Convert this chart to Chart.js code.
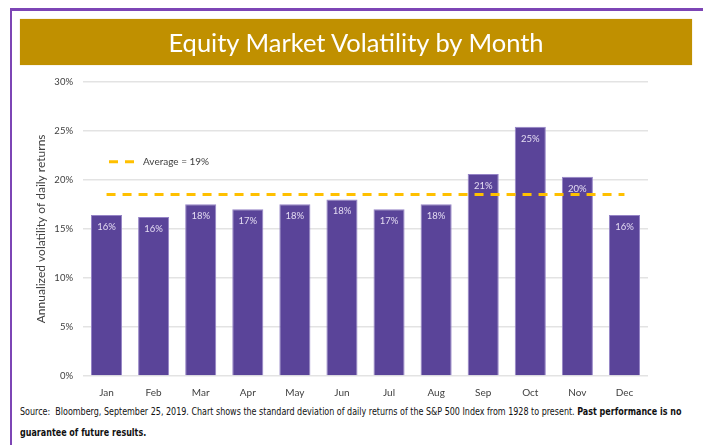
<!DOCTYPE html>
<html>
<head>
<meta charset="utf-8">
<script src="https://cdn.jsdelivr.net/npm/chart.js@4/dist/chart.umd.min.js"></script>
<style>
  body { margin: 0; background: #fff; width: 703px; height: 445px; position: relative; overflow: hidden; font-family: Lato, sans-serif; }
  .frame { position: absolute; left: 10px; top: 8px; right: -10px; bottom: -10px; border-left: 2px solid #7d45b5; border-top: 3px solid #7d45b5; }
  .title { position: absolute; left: 20px; top: 19px; width: 672px; height: 46px; background: #c09000; color: #fff;
           font-size: 25.5px; line-height: 46px; text-align: center; box-shadow: 0 0 1px #d9c48a; z-index: 1; }
  .chartbox { position: absolute; left: 30px; top: 66px; width: 628px; height: 334px; }
  .note { position: absolute; left: 20px; top: 401px; width: 800px; white-space: nowrap; transform: scaleX(0.89); transform-origin: 0 0;
          font-family: "DejaVu Sans Condensed", "DejaVu Sans", sans-serif; font-size: 10px; line-height: 21px; color: #111; }
</style>
</head>
<body>
<div class="frame"></div>
<div class="title">Equity Market Volatility by Month</div>
<div class="chartbox"><canvas id="chart"></canvas></div>
<div class="note">Source:&nbsp; Bloomberg, September 25, 2019. Chart shows the standard deviation of daily returns of the S&amp;P 500 Index from 1928 to present. <b>Past performance is no</b><br><b>guarantee of future results.</b></div>
<script>
// monthly volatility (percent)
const months = ['Jan', 'Feb', 'Mar', 'Apr', 'May', 'Jun', 'Jul', 'Aug', 'Sep', 'Oct', 'Nov', 'Dec'];
const volatility = [16.4, 16.2, 17.5, 17.0, 17.5, 18.0, 17.0, 17.5, 20.6, 25.4, 20.3, 16.4];
const average = [18.5, 18.5, 18.5, 18.5, 18.5, 18.5, 18.5, 18.5, 18.5, 18.5, 18.5, 18.5];
const averageLabel = 'Average = 19%';
const yTicks = [0, 5, 10, 15, 20, 25, 30];

// value labels inside the top of each bar
const barLabels = {
    id: 'barLabels',
    afterDatasetsDraw(chart) {
        const ctx = chart.ctx;
        const meta = chart.getDatasetMeta(0);
        ctx.save();
        ctx.font = '9.5px Lato';
        ctx.fillStyle = '#e4dcf2';
        ctx.textAlign = 'center';
        ctx.textBaseline = 'middle';
        meta.data.forEach((bar, i) => {
            ctx.fillText(Math.round(volatility[i]) + '%', bar.x, bar.y + 12);
        });
        ctx.restore();
    }
};

// small legend for the average line, top left of the plot
const avgLegend = {
    id: 'avgLegend',
    afterDraw(chart) {
        const ctx = chart.ctx;
        const ds = chart.data.datasets[1];
        const a = chart.chartArea;
        const x = a.left + 26, y = a.top + 80;
        ctx.save();
        ctx.strokeStyle = ds.borderColor;
        ctx.lineWidth = ds.borderWidth;
        ctx.setLineDash(ds.borderDash);
        ctx.beginPath();
        ctx.moveTo(x, y);
        ctx.lineTo(x + 30, y);
        ctx.stroke();
        ctx.font = '10px Lato';
        ctx.fillStyle = '#404040';
        ctx.textBaseline = 'middle';
        ctx.fillText(ds.label, x + 34, y);
        ctx.restore();
    }
};

new Chart(document.getElementById('chart'), {
    data: {
        labels: months,
        datasets: [
            {
                type: 'bar',
                label: 'Volatility',
                data: volatility,
                backgroundColor: '#5a4499',
                borderColor: '#9584c6',
                borderWidth: 1,
                categoryPercentage: 1,
                barPercentage: 0.66,
                order: 2
            },
            {
                type: 'line',
                label: averageLabel,
                data: average,
                borderColor: '#ffc000',
                borderWidth: 3,
                borderDash: [9, 7],
                pointRadius: 0,
                fill: false,
                order: 1
            }
        ]
    },
    options: {
        responsive: true,
        maintainAspectRatio: false,
        animation: false,
        layout: { padding: { top: 3, right: 10 } },
        plugins: {
            legend: { display: false },
            tooltip: { enabled: false }
        },
        scales: {
            x: {
                grid: { display: false },
                border: { display: false },
                ticks: { color: '#404040', font: { family: 'Lato', size: 10 }, padding: 3 },
                afterFit: (s) => { s.height = 24; }
            },
            y: {
                min: 0,
                max: 30,
                afterBuildTicks: (s) => { s.ticks = yTicks.map((v) => ({ value: v })); },
                grid: { color: '#e3e3e3', lineWidth: 1.5, drawTicks: false },
                border: { display: false },
                ticks: {
                    color: '#404040',
                    font: { family: 'Lato', size: 9.5 },
                    padding: 10,
                    callback: (v) => v + '%'
                },
                title: {
                    display: true,
                    text: 'Annualized volatility of daily returns',
                    color: '#404040',
                    font: { family: 'Lato', size: 12 },
                    padding: { top: 4, bottom: 0 }
                },
                afterFit: (s) => { s.width = 53; }
            }
        }
    },
    plugins: [barLabels, avgLegend]
});
</script>
</body>
</html>
